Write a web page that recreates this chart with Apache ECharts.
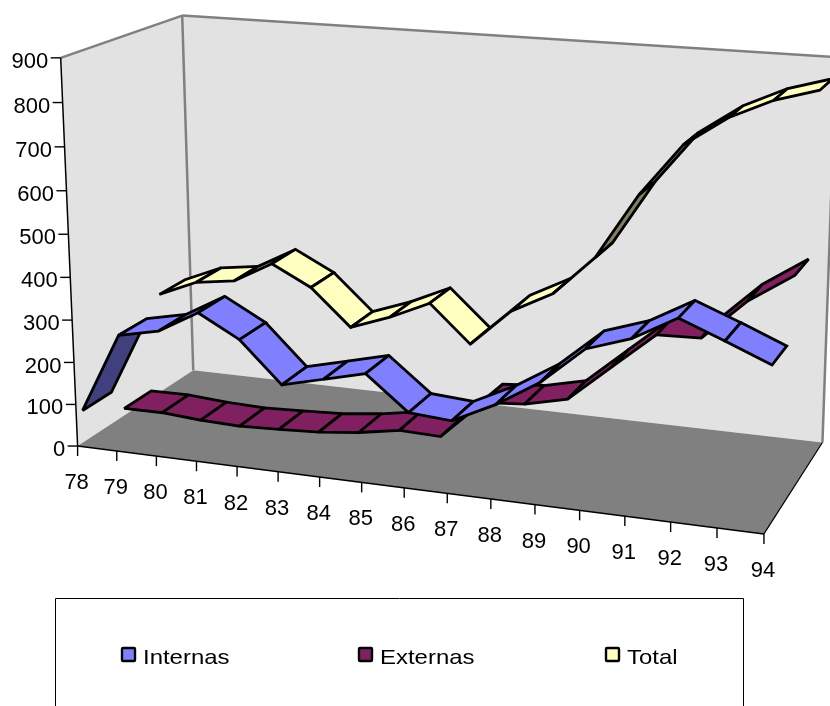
<!DOCTYPE html>
<html><head><meta charset="utf-8">
<style>html,body{margin:0;padding:0;background:#fff}#c{width:830px;height:706px}</style>
<script src="https://cdn.jsdelivr.net/npm/echarts@6/dist/echarts.min.js"></script>
</head><body><div id="c"></div>
<script>
const categories=['78','79','80','81','82','83','84','85','86','87','88','89','90','91','92','93','94'];
const yTicks=[0,100,200,300,400,500,600,700,800,900];
const internas=[76,266,286,339,287,193,217,241,163,156,204,265,350,383,438,399,358];
const externas=[17,18,11,8,12,17,28,45,42,134,142,165,250,334,337,430,496];
const total=[244,284,297,349,300,212,247,291,202,292,343,438,592,714,782,828,857];

// Perspective box: unit coordinates (category, depth, value) paired with their place on the page.
const frame=[[0,0,0,78,446],[1,0,0,764,534],[0,1,0,193,370],[1,1,0,823,442],[0,0,1,61,57],[0,1,1,182,16],[1,1,1,836,57.5],
[.0625,0,0,117,451],[.25,0,0,237,466.4],[.75,0,0,579,510.5],[.5,0,0,404,487.8],
[0,0,1/9,76,404],[0,0,2/9,74,363],[0,0,3/9,72,321],[0,0,4/9,70,278],[0,0,5/9,68,234],[0,0,6/9,66.5,190.5],[0,0,7/9,64.5,147],[0,0,8/9,63,102]];

function solve(A,b){
  const n=b.length;A=A.map((r,i)=>r.concat(b[i]));
  for(let i=0;i<n;i++){
    let m=i;for(let k=i+1;k<n;k++)if(Math.abs(A[k][i])>Math.abs(A[m][i]))m=k;
    [A[i],A[m]]=[A[m],A[i]];
    for(let k=0;k<n;k++)if(k!==i){const f=A[k][i]/A[i][i];for(let j=i;j<=n;j++)A[k][j]-=f*A[i][j];}
  }
  return A.map((r,i)=>r[n]/r[i]);
}
// Least-squares camera matrix for the box.
function fit(pts){
  const R=[],S=[];
  pts.forEach(([u,z,t,x,y])=>{
    R.push([u,z,t,1,0,0,0,0,-x*u,-x*z,-x*t]);S.push(x);
    R.push([0,0,0,0,u,z,t,1,-y*u,-y*z,-y*t]);S.push(y);
  });
  const N=Array.from({length:11},(_,i)=>Array.from({length:11},(_,j)=>R.reduce((s,r)=>s+r[i]*r[j],0)));
  const B=Array.from({length:11},(_,i)=>R.reduce((s,r,k)=>s+r[i]*S[k],0));
  return solve(N,B);
}
const P=fit(frame);
const proj=(u,z,t)=>{const w=P[8]*u+P[9]*z+P[10]*t+1;return [(P[0]*u+P[1]*z+P[2]*t+P[3])/w,(P[4]*u+P[5]*z+P[6]*t+P[7])/w];};

// Face colour, underside colour and depth band of each ribbon.
const styles={Internas:['#8080ff','#40407f',.05,.283],Externas:['#802060','#401030',.383,.617],Total:['#ffffc0','#80805f',.717,.95]};
const chart=echarts.init(document.getElementById('c'));

// The hidden cartesian grid supplies the scales; its result is normalised and fed to the camera.
function unit(api,params,c,v){const p=api.coord([c,v]),g=params.coordSys;return [(p[0]-g.x)/g.width,(g.y+g.height-p[1])/g.height];}

function ribbon(name,vals){
  const st=styles[name];
  return {type:'custom',name,silent:true,clip:false,data:vals.map((v,i)=>[i,v]),encode:{x:0,y:1},
    renderItem(params,api){
      const i=params.dataIndex;if(i>=vals.length-1)return null;
      const a=unit(api,params,api.value(0,i),api.value(1,i)),b=unit(api,params,api.value(0,i+1),api.value(1,i+1));
      const pts=[proj(a[0],st[2],a[1]),proj(a[0],st[3],a[1]),proj(b[0],st[3],b[1]),proj(b[0],st[2],b[1])];
      // The winding on screen tells whether the top or the underside faces the viewer.
      let area=0;pts.forEach((p,k)=>{const q=pts[(k+1)%4];area+=p[0]*q[1]-q[0]*p[1];});
      return {type:'polygon',shape:{points:pts},style:{fill:area>0?st[0]:st[1],stroke:'#000',lineWidth:2.8,lineJoin:'miter',miterLimit:2.5}};
    }};
}
const lineEl=(a,b,c,w)=>({type:'line',shape:{x1:a[0],y1:a[1],x2:b[0],y2:b[1]},style:{stroke:c,lineWidth:w}});
const polyEl=(ps,f)=>({type:'polygon',shape:{points:ps},style:{fill:f}});
const F=proj;
const frameSeries={type:'custom',silent:true,clip:false,data:[[0,0]],encode:{x:0,y:1},renderItem(){return {type:'group',children:[
  polyEl([F(0,0,0),F(0,1,0),F(0,1,1),F(0,0,1)],'#e2e2e2'),
  polyEl([F(0,1,0),F(1,1,0),F(1,1,1),F(0,1,1)],'#e2e2e2'),
  polyEl([F(0,0,0),F(1,0,0),F(1,1,0),F(0,1,0)],'#808080'),
  lineEl(F(0,0,1),F(0,1,1),'#808080',2.5),lineEl(F(0,1,1),F(1,1,1),'#808080',2.5),
  lineEl(F(0,1,0),F(0,1,1),'#808080',2.5),lineEl(F(1,1,0),F(1,1,1),'#808080',2.5),
  lineEl(F(1,0,0),F(1,1,0),'#000',1.2),lineEl(F(0,0,0),F(1,0,0),'#000',1.5),lineEl(F(0,0,0),F(0,0,1),'#000',1.5)
]};}};
const font={fontFamily:'"Liberation Sans",Arial,sans-serif',fontSize:22,fill:'#000'};
const xAxisSeries={type:'custom',silent:true,clip:false,data:categories.map((c,i)=>[i,0]),encode:{x:0,y:1},
  renderItem(params,api){
    const i=params.dataIndex,u=unit(api,params,api.value(0),0),p=proj(u[0],0,0);
    return {type:'group',children:[lineEl(p,[p[0],p[1]+10],'#000',1.4),
      {type:'text',x:p[0]-1,y:p[1]+37,style:Object.assign({text:categories[i],align:'center',verticalAlign:'middle'},font)}]};
  }};
const yAxisSeries={type:'custom',silent:true,clip:false,data:yTicks.map(v=>[0,v]),encode:{x:0,y:1},
  renderItem(params,api){
    const i=params.dataIndex,u=unit(api,params,0,api.value(1)),p=proj(0,0,u[1]);
    return {type:'group',children:[lineEl([p[0]-10,p[1]],p,'#000',1.4),
      {type:'text',x:p[0]-12.5,y:p[1]+4,style:Object.assign({text:String(yTicks[i]),align:'right',verticalAlign:'middle'},font)}]};
  }};

const legendItems=[['Internas',121],['Externas',358],['Total',605]];
const graphic=[{type:'rect',shape:{x:55.5,y:598.5,width:688,height:130},style:{fill:'none',stroke:'#000',lineWidth:1}}];
legendItems.forEach(([n,x])=>{
  graphic.push({type:'rect',shape:{x:x+1,y:648,width:13,height:13,r:1},style:{fill:styles[n][0],stroke:'#000',lineWidth:2.4}});
  graphic.push({type:'text',x:x+22,y:658,scaleX:1.14,style:{text:n,fontFamily:font.fontFamily,fontSize:21,fill:'#000',verticalAlign:'middle'}});
});

chart.setOption({animation:false,grid:{left:0,right:0,top:0,bottom:0},
  xAxis:{type:'category',data:categories,boundaryGap:false,show:false},
  yAxis:{type:'value',min:0,max:900,interval:100,show:false},
  graphic,
  series:[frameSeries,xAxisSeries,yAxisSeries,ribbon('Total',total),ribbon('Externas',externas),ribbon('Internas',internas)]});
</script></body></html>
